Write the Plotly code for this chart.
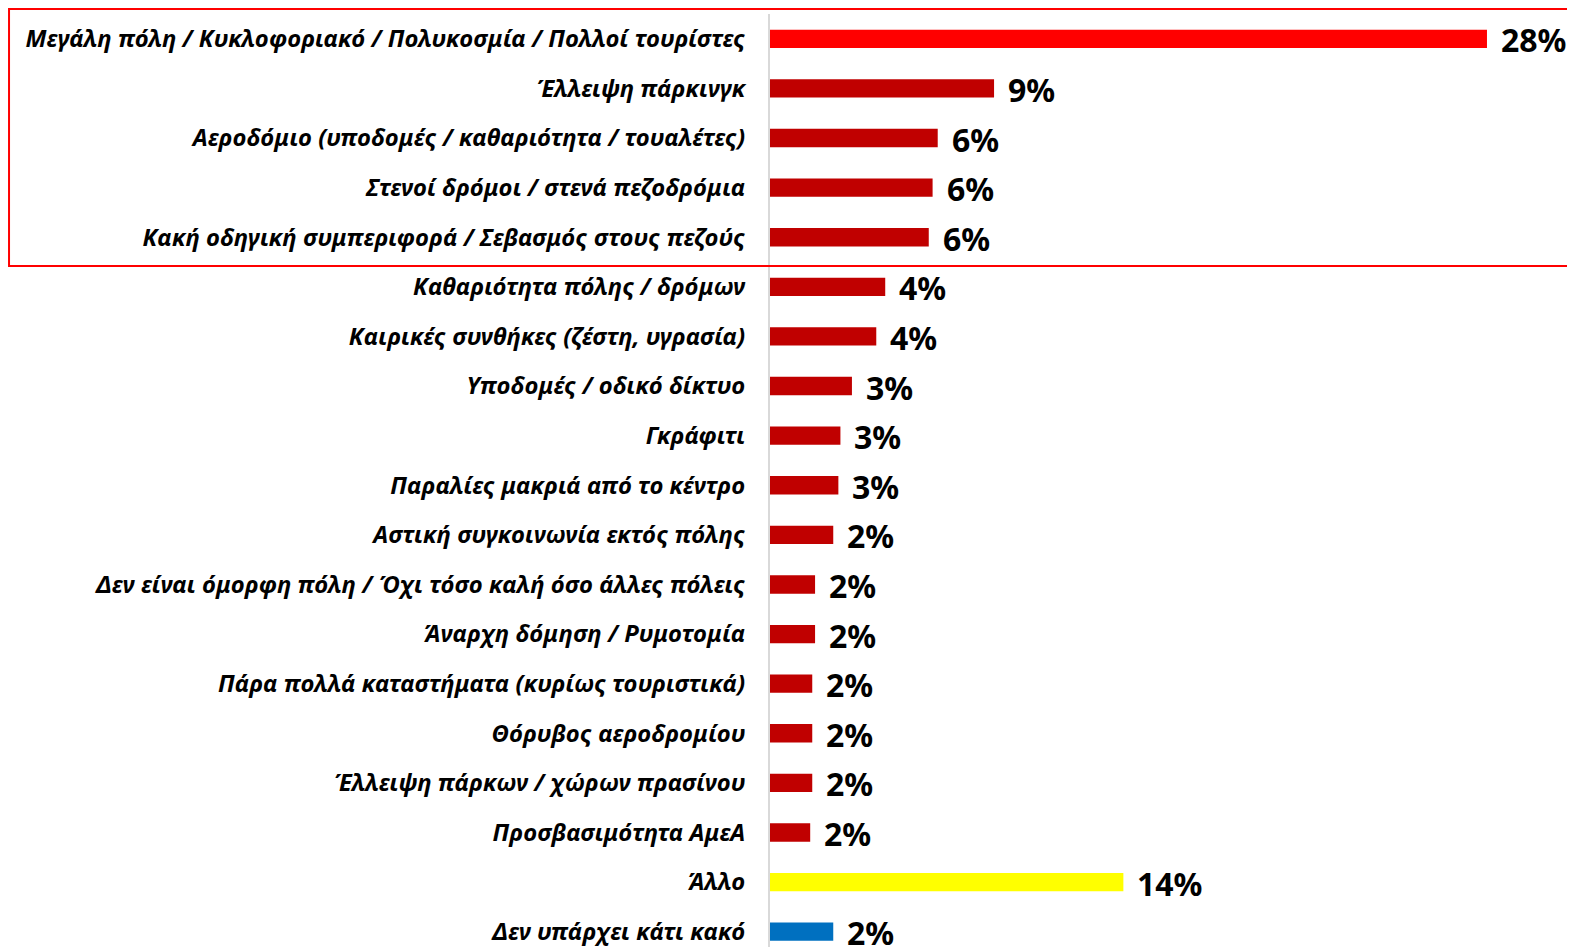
import plotly.graph_objects as go

categories = [
    "Μεγάλη πόλη / Κυκλοφοριακό / Πολυκοσμία / Πολλοί τουρίστες",
    "Έλλειψη πάρκινγκ",
    "Αεροδόμιο (υποδομές / καθαριότητα / τουαλέτες)",
    "Στενοί δρόμοι / στενά πεζοδρόμια",
    "Κακή οδηγική συμπεριφορά / Σεβασμός στους πεζούς",
    "Καθαριότητα πόλης / δρόμων",
    "Καιρικές συνθήκες (ζέστη, υγρασία)",
    "Υποδομές / οδικό δίκτυο",
    "Γκράφιτι",
    "Παραλίες μακριά από το κέντρο",
    "Αστική συγκοινωνία εκτός πόλης",
    "Δεν είναι όμορφη πόλη / Όχι τόσο καλή όσο άλλες πόλεις",
    "Άναρχη δόμηση / Ρυμοτομία",
    "Πάρα πολλά καταστήματα (κυρίως τουριστικά)",
    "Θόρυβος αεροδρομίου",
    "Έλλειψη πάρκων / χώρων πρασίνου",
    "Προσβασιμότητα ΑμεΑ",
    "Άλλο",
    "Δεν υπάρχει κάτι κακό",
]
values = [28.0, 8.75, 6.55, 6.35, 6.2, 4.5, 4.15, 3.2, 2.75, 2.67, 2.47,
          1.76, 1.76, 1.65, 1.65, 1.65, 1.57, 13.8, 2.47]
labels = ["28%", "9%", "6%", "6%", "6%", "4%", "4%", "3%", "3%", "3%", "2%",
          "2%", "2%", "2%", "2%", "2%", "2%", "14%", "2%"]
colors = ["#FF0000"] + ["#C00000"] * 16 + ["#FFFF00", "#0070C0"]

fig = go.Figure()
fig.add_trace(go.Bar(
    x=values, y=categories, orientation="h",
    marker=dict(color=colors, line=dict(width=0)),
    width=0.37, hoverinfo="skip",
))
for v, c, t in zip(values, categories, labels):
    fig.add_annotation(x=v, y=c, text=t, showarrow=False, xanchor="left",
                       yanchor="middle", xshift=12, yshift=-1,
                       font=dict(family="Noto Sans", size=32, color="#000000", weight="bold"))

fig.add_shape(type="rect", xref="paper", yref="paper", x0=-0.936, x1=1.02,
              y0=0.7322, y1=1.0053, line=dict(color="#FF0000", width=2), layer="above")

fig.update_layout(
    width=1575, height=947,
    margin=dict(l=762, r=0, t=6, b=0),
    plot_bgcolor="white", paper_bgcolor="white",
    showlegend=False,
    xaxis=dict(range=[0, 31.75], visible=False, fixedrange=True),
    yaxis=dict(
        range=[18.47, -0.5], showline=True, linecolor="#D9D9D9", linewidth=2,
        showgrid=False, ticks="", ticklabelstandoff=18,
        tickfont=dict(family="Noto Sans", size=23.8, color="#000000",
                      weight="bold", style="italic"),
    ),
)
fig.write_html("out.html")
